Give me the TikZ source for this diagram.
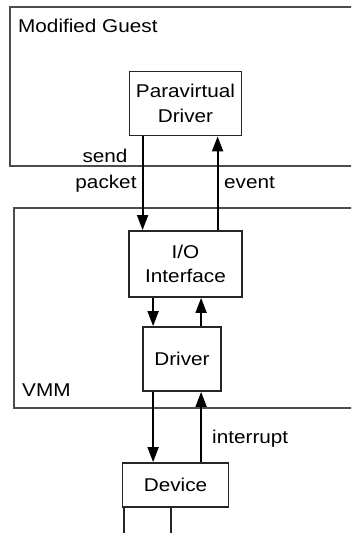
\documentclass[tikz,border=0pt]{standalone}
\usepackage{fontspec}
\setmainfont[FakeStretch=1.12]{Liberation Sans}
\usetikzlibrary{arrows.meta}
\begin{document}
\begin{tikzpicture}[x=1pt,y=-1pt,
  every node/.style={font=\fontsize{18.5}{24.5}\selectfont, text=black, inner sep=0pt},
  box/.style={draw=black!85, line width=1.8pt, align=center, fill=white},
  region/.style={draw=black!70, line width=2pt},
  arr/.style={draw=black, line width=1.8pt, -{Triangle[width=11pt,length=15pt]}},
  plain/.style={draw=black!85, line width=1.8pt},
  lbl/.style={anchor=base west}]
\useasboundingbox (0,0) rectangle (351,533);
\clip (0,0) rectangle (351,533);
% regions
\draw[region] (10,7) rectangle (370,166);
\draw[region] (14,208) rectangle (370,408);
\node[lbl] (mg) at (18,32) {Modified Guest};
\node[lbl] (vmm) at (22,396) {VMM};
% boxes
\node[box, minimum width=112pt, minimum height=64pt] (pv) at (185.5,103.5) {Paravirtual\\Driver};
\node[box, minimum width=113pt, minimum height=66pt] (io) at (185.5,264) {I/O\\Interface};
\node[box, minimum width=78pt, minimum height=64pt] (drv) at (182,359) {Driver};
\node[box, minimum width=106pt, minimum height=44pt] (dev) at (175.5,485) {Device};
% anchor points
\path (pv.south west) ++(14,0) coordinate (pvs);
\path (pv.south west) ++(89,0) coordinate (pve);
\path (io.south west) ++(25,0) coordinate (iod);
\path (io.south west) ++(73,0) coordinate (iou);
\path (dev.south west) ++(2,0) coordinate (dl1);
\path (dev.south west) ++(49,0) coordinate (dl2);
\coordinate (bottom) at (0,545);
% connectors
\draw[arr] (pvs) -- (pvs |- io.north);
\draw[arr] (pve |- io.north) -- (pve);
\draw[arr] (iod) -- (iod |- drv.north);
\draw[arr] (iou |- drv.north) -- (iou);
\draw[arr] (iod |- drv.south) -- (iod |- dev.north);
\draw[arr] (iou |- dev.north) -- (iou |- drv.south);
\draw[plain] (dl1) -- (dl1 |- bottom);
\draw[plain] (dl2) -- (dl2 |- bottom);
% labels
\node[anchor=base] (send) at (105,162) {send};
\node[anchor=base] (packet) at (106,188) {packet};
\node[lbl] (event) at (224,188) {event};
\node[lbl] (intr) at (212,443) {interrupt};
\end{tikzpicture}
\end{document}
